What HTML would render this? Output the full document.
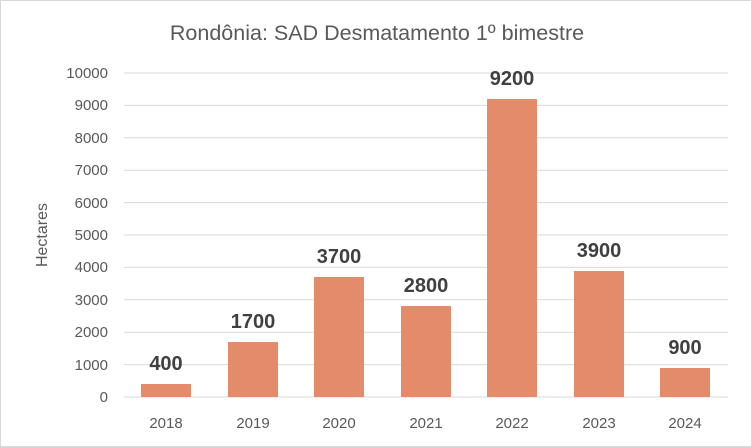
<!DOCTYPE html>
<html><head><meta charset="utf-8"><style>
body{margin:0;background:#fff}
svg{display:block}
text{font-family:"Liberation Sans",Calibri,sans-serif}
</style></head><body>
<svg width="752" height="447" viewBox="0 0 752 447">
<rect x="0.5" y="0.5" width="751" height="446" fill="#fff" stroke="#d9d9d9"/>
<text x="377" y="40" text-anchor="middle" font-size="21.5" fill="#595959">Rondônia: SAD Desmatamento 1º bimestre</text>
<g stroke="#d9d9d9" stroke-width="1">
<line x1="124" x2="728" y1="73" y2="73"/><line x1="124" x2="728" y1="105.4" y2="105.4"/>
<line x1="124" x2="728" y1="137.8" y2="137.8"/><line x1="124" x2="728" y1="170.2" y2="170.2"/>
<line x1="124" x2="728" y1="202.6" y2="202.6"/><line x1="124" x2="728" y1="235" y2="235"/>
<line x1="124" x2="728" y1="267.4" y2="267.4"/><line x1="124" x2="728" y1="299.8" y2="299.8"/>
<line x1="124" x2="728" y1="332.2" y2="332.2"/><line x1="124" x2="728" y1="364.6" y2="364.6"/>
<line x1="124" x2="728" y1="397" y2="397"/>
</g>
<g font-size="15" fill="#595959" text-anchor="end">
<text x="108" y="78">10000</text><text x="108" y="110">9000</text><text x="108" y="143">8000</text>
<text x="108" y="175">7000</text><text x="108" y="208">6000</text><text x="108" y="240">5000</text>
<text x="108" y="272">4000</text><text x="108" y="305">3000</text><text x="108" y="337">2000</text>
<text x="108" y="370">1000</text><text x="108" y="402">0</text>
</g>
<text transform="translate(47,235) rotate(-90)" text-anchor="middle" font-size="16" fill="#595959">Hectares</text>
<g fill="#E48B6A">
<rect x="141" y="384" width="50" height="13"/>
<rect x="228" y="342" width="50" height="55"/>
<rect x="314" y="277" width="50" height="120"/>
<rect x="401" y="306" width="50" height="91"/>
<rect x="487" y="99" width="50" height="298"/>
<rect x="574" y="271" width="50" height="126"/>
<rect x="660" y="368" width="50" height="29"/>
</g>
<g font-size="20" font-weight="bold" fill="#404040" text-anchor="middle">
<text x="166" y="370">400</text><text x="253" y="328">1700</text><text x="339" y="263">3700</text>
<text x="426" y="292">2800</text><text x="512" y="85">9200</text><text x="599" y="257">3900</text>
<text x="685" y="354">900</text>
</g>
<g font-size="15" fill="#595959" text-anchor="middle">
<text x="166" y="428">2018</text><text x="253" y="428">2019</text><text x="339" y="428">2020</text>
<text x="426" y="428">2021</text><text x="512" y="428">2022</text><text x="599" y="428">2023</text>
<text x="685" y="428">2024</text>
</g>
</svg>
</body></html>
